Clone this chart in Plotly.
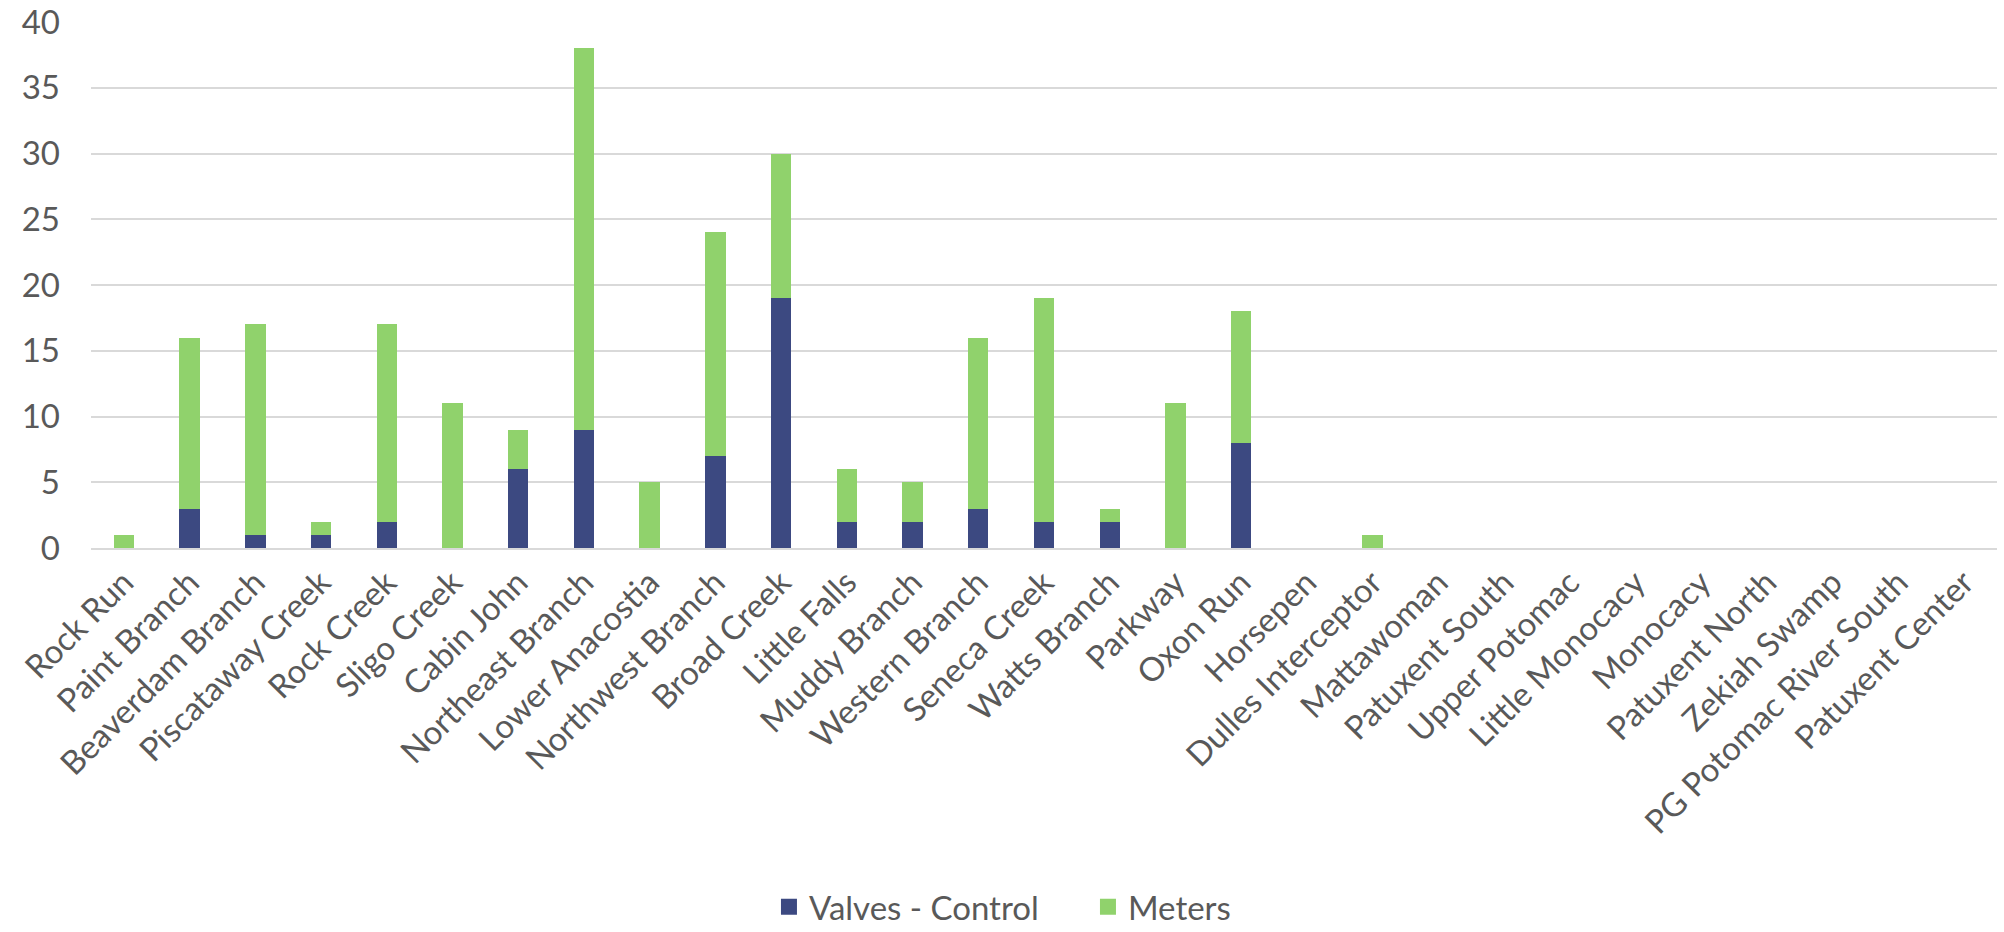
import plotly.graph_objects as go

# Sewer-shed names along the x axis
sewersheds = [
    "Rock Run", "Paint Branch", "Beaverdam Branch", "Piscataway Creek", "Rock Creek",
    "Sligo Creek", "Cabin John", "Northeast Branch", "Lower Anacostia", "Northwest Branch",
    "Broad Creek", "Little Falls", "Muddy Branch", "Western Branch", "Seneca Creek",
    "Watts Branch", "Parkway", "Oxon Run", "Horsepen", "Dulles Interceptor",
    "Mattawoman", "Patuxent South", "Upper Potomac", "Little Monocacy", "Monocacy",
    "Patuxent North", "Zekiah Swamp", "PG Potomac River South", "Patuxent Center",
]

valves_control = [0, 3, 1, 1, 2, 0, 6, 9, 0, 7, 19, 2, 2, 3, 2, 2, 0, 8, 0, 0,
                  0, 0, 0, 0, 0, 0, 0, 0, 0]
meters = [1, 13, 16, 1, 15, 11, 3, 29, 5, 17, 11, 4, 3, 13, 17, 1, 11, 10, 0, 1,
          0, 0, 0, 0, 0, 0, 0, 0, 0]

y_ticks = [0, 5, 10, 15, 20, 25, 30, 35, 40]

NAVY = "#3C4981"
GREEN = "#90D26C"
TEXT = "#595959"
FONT = "Lato, 'Open Sans', sans-serif"
FS = 33

series = [("Valves - Control", valves_control, NAVY), ("Meters", meters, GREEN)]

fig = go.Figure()
for name, values, color in series:
    fig.add_trace(go.Bar(
        x=sewersheds, y=values, name=name,
        legendgroup=name, showlegend=False,
        marker=dict(color=color, line=dict(width=0)),
    ))
# Legend entries with larger square swatches
for name, values, color in series:
    fig.add_trace(go.Scatter(
        x=[None], y=[None], mode="markers", name=name,
        legendgroup=name, showlegend=True,
        marker=dict(symbol="square", size=20, color=color),
    ))

fig.update_layout(
    width=2004, height=932,
    barmode="stack",
    bargap=0.69,
    paper_bgcolor="white",
    plot_bgcolor="white",
    margin=dict(l=91, r=7, t=22, b=384, autoexpand=False),
    font=dict(family=FONT, color=TEXT, size=FS),
    showlegend=True,
    legend=dict(
        orientation="h",
        x=0.3557, xanchor="left",
        y=-0.682, yanchor="middle",
        font=dict(size=FS, color=TEXT),
        itemwidth=30,
        entrywidth=274,
        traceorder="normal",
    ),
    xaxis=dict(
        tickangle=-45,
        showgrid=False,
        showline=True,
        linecolor="#D9D9D9",
        linewidth=2,
        ticks="",
        automargin=False,
        tickfont=dict(size=FS, color=TEXT),
    ),
    yaxis=dict(
        range=[0, 40],
        tickvals=y_ticks,
        showgrid=True,
        gridcolor="#D9D9D9",
        gridwidth=2,
        zeroline=False,
        showline=False,
        ticks="",
        automargin=False,
        ticklabelstandoff=30,
        tickfont=dict(size=FS, color=TEXT),
    ),
)

fig.write_html("out.html")
